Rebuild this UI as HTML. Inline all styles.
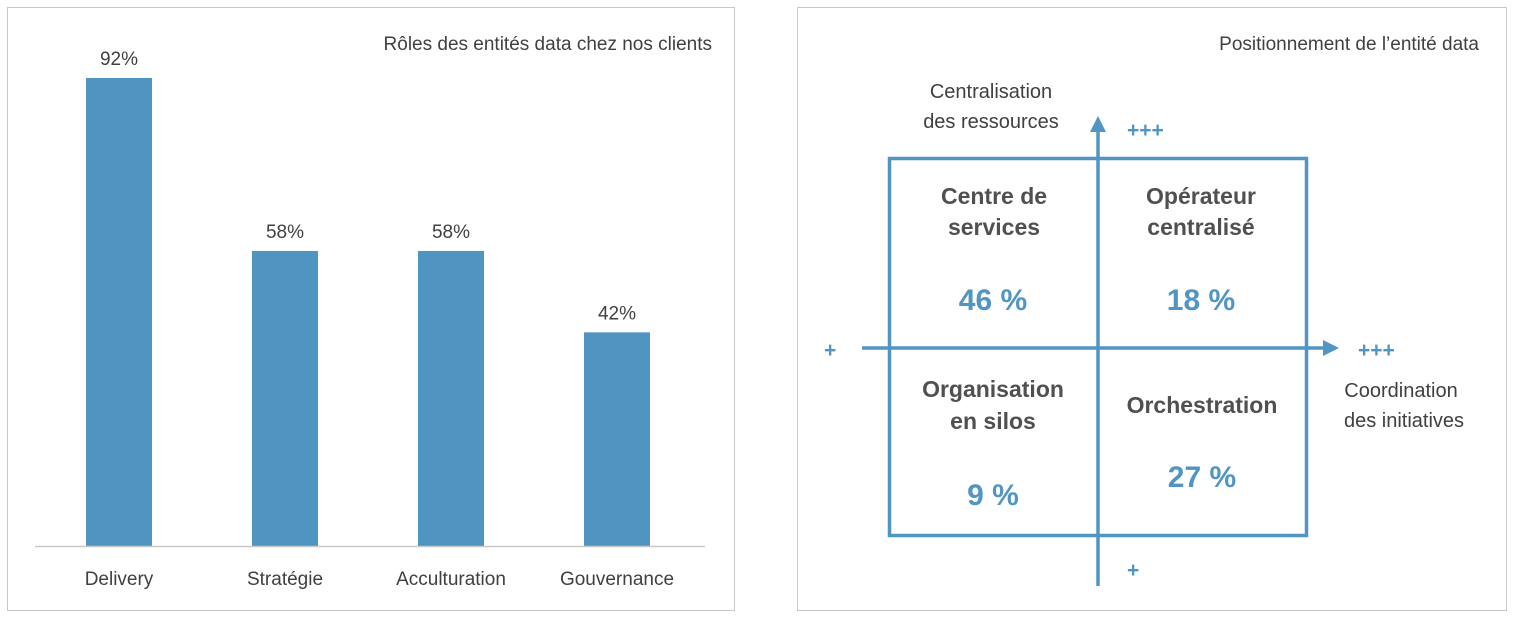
<!DOCTYPE html>
<html><head><meta charset="utf-8"><style>
body{margin:0;background:#fff;width:1514px;height:620px;overflow:hidden;font-family:"Liberation Sans",sans-serif}
svg text{font-family:"Liberation Sans",sans-serif}
</style></head><body>
<svg width="1514" height="620" xmlns="http://www.w3.org/2000/svg">
<g>
<rect x="7.5" y="7.5" width="727" height="603" fill="#fff" stroke="#c8c8c8"/>
<text x="712" y="50" text-anchor="end" font-size="19" fill="#404040">Rôles des entités data chez nos clients</text>
<g id="bars"></g>
<line x1="35" y1="546.5" x2="705" y2="546.5" stroke="#c8c8c8" stroke-width="1.5"/>
</g>
<g>
<rect x="797.5" y="7.5" width="709" height="603" fill="#fff" stroke="#c8c8c8"/>
<text x="1479" y="50" text-anchor="end" font-size="19" fill="#404040">Positionnement de l’entité data</text>
<rect x="889.5" y="158.5" width="417" height="377" fill="none" stroke="#5195c3" stroke-width="3.5"/>
<line x1="1098" y1="128" x2="1098" y2="586" stroke="#5195c3" stroke-width="3.5"/>
<polygon points="1098,116 1090,132 1106,132" fill="#5195c3"/>
<line x1="862" y1="348" x2="1326" y2="348" stroke="#5195c3" stroke-width="3.5"/>
<polygon points="1339,348 1323,340 1323,356" fill="#5195c3"/>
<g font-size="20" fill="#404040" text-anchor="middle">
<text x="991" y="98">Centralisation</text>
<text x="991" y="128">des ressources</text>
<text x="1401" y="397">Coordination</text>
<text x="1404" y="427">des initiatives</text>
</g>
<g font-size="21" font-weight="bold" fill="#5195c3">
<text x="1127" y="137">+++</text>
<text x="1127" y="577">+</text>
<text x="824" y="357">+</text>
<text x="1358" y="357">+++</text>
</g>
<g font-size="23" font-weight="bold" fill="#505050" text-anchor="middle">
<text x="994" y="204">Centre de</text>
<text x="994" y="235">services</text>
<text x="1201" y="204">Opérateur</text>
<text x="1201" y="235">centralisé</text>
<text x="993" y="397">Organisation</text>
<text x="993" y="429">en silos</text>
<text x="1202" y="413">Orchestration</text>
</g>
<g font-size="30" font-weight="bold" fill="#5195c3" text-anchor="middle">
<text x="993" y="310">46 %</text>
<text x="1201" y="310">18 %</text>
<text x="993" y="505">9 %</text>
<text x="1202" y="487">27 %</text>
</g>
</g>
</svg>
<script>
const categories=["Delivery","Stratégie","Acculturation","Gouvernance"];
const values=[92,58,58,42];
const valueLabels=["92%","58%","58%","42%"];
const ns="http://www.w3.org/2000/svg";
const g=document.getElementById("bars");
const base=546,pxPer=5.087,x0=36,step=166,bw=66;
function xPos(i){return x0+step*i+50;}
function yPos(v){return base-v*pxPer;}
categories.forEach((c,i)=>{
 const r=document.createElementNS(ns,"rect");
 r.setAttribute("x",xPos(i));r.setAttribute("y",yPos(values[i]));
 r.setAttribute("width",bw);r.setAttribute("height",base-yPos(values[i]));
 r.setAttribute("fill","#5094c2");
 
 
 g.appendChild(r);
 const t=document.createElementNS(ns,"text");
 t.setAttribute("x",xPos(i)+bw/2);t.setAttribute("y",yPos(values[i])-13);
 t.setAttribute("text-anchor","middle");t.setAttribute("font-size","19");t.setAttribute("fill","#404040");
 t.textContent=valueLabels[i];
 
 
 g.appendChild(t);
 const l=document.createElementNS(ns,"text");
 l.setAttribute("x",xPos(i)+bw/2);l.setAttribute("y",585);
 l.setAttribute("text-anchor","middle");l.setAttribute("font-size","19");l.setAttribute("fill","#404040");
 l.textContent=c;
 
 
 g.appendChild(l);
});
</script>
</body></html>
